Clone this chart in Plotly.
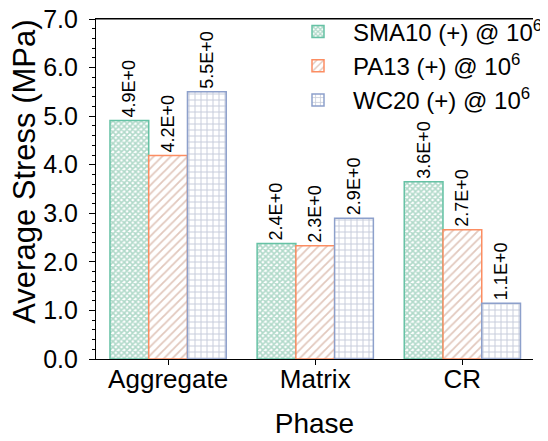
import plotly.graph_objects as go

categories = ["Aggregate", "Matrix", "CR"]
series_names = ["SMA10 (+) @ 10<sup>6</sup>", "PA13 (+) @ 10<sup>6</sup>", "WC20 (+) @ 10<sup>6</sup>"]
sma10 = [4.91, 2.38, 3.65]
pa13 = [4.19, 2.33, 2.66]
wc20 = [5.50, 2.90, 1.15]
y_ticks = [0, 1, 2, 3, 4, 5, 6, 7]
y_title = "Average Stress (MPa)"

def sci(v):
    m, e = f"{v:.1E}".split("E")
    return f"{m}E{int(e):+d}"

edge_colors = ["#66c2a5", "#fc8d62", "#8da0cb"]
pat_colors = ["#62b394", "#c4917c", "#8e99b6"]
shapes = ["x", "/", "+"]
sizes = [4, 6, 6]
sol = [0.65, 0.3, 0.3]

FONT = "Liberation Sans, Arial, sans-serif"
fig = go.Figure()
for i, (name, vals) in enumerate(zip(series_names, [sma10, pa13, wc20])):
    fig.add_trace(go.Bar(
        x=categories, y=vals, name=name,
        text=[sci(v) for v in vals], textposition="outside", textangle=-90,
        constraintext="none", cliponaxis=False,
        textfont=dict(family=FONT, size=18, color="black"),
        marker=dict(color="white", line=dict(color=edge_colors[i], width=1.5),
                    pattern=dict(shape=shapes[i], fgcolor=pat_colors[i], bgcolor="white",
                                 size=sizes[i], solidity=sol[i], fillmode="overlay")),
    ))

fig.update_layout(
    width=540, height=433, barmode="group", bargap=0.21, bargroupgap=0,
    plot_bgcolor="white", paper_bgcolor="white",
    margin=dict(l=88, r=0, t=11, b=82),
    font=dict(family=FONT, color="black"),
    legend=dict(x=0.428, y=1.028, xanchor="left", yanchor="top", bgcolor="rgba(0,0,0,0)",
                font=dict(size=24, family=FONT), tracegroupgap=0, itemwidth=60),
    xaxis=dict(range=[-0.49, 2.48], showline=True, linecolor="black", linewidth=1.2, mirror=True,
               automargin=False, ticklabelstandoff=-8,
               ticks="outside", ticklen=5, tickcolor="black",
               tickfont=dict(size=26), title=dict(text="Phase", font=dict(size=28), standoff=20),
               minor=dict(ticks="outside", ticklen=3, tickcolor="black", dtick=0.5)),
    yaxis=dict(range=[0, 7], tickvals=y_ticks, ticktext=[f"{t:.1f}" for t in y_ticks],
               automargin=False, ticklabelstandoff=6, ticklabeloverflow="allow",
               showline=True, linecolor="black", linewidth=1.2, showgrid=False, zeroline=False,
               ticks="outside", ticklen=6, tickcolor="black", tickfont=dict(size=25),
               minor=dict(ticks="outside", ticklen=3, tickcolor="black", dtick=0.2, showgrid=False)),
)
fig.add_annotation(text=y_title, xref="paper", yref="paper", x=-0.163, y=0.55,
                   xanchor="center", yanchor="middle", textangle=-90, showarrow=False,
                   font=dict(size=31, family=FONT, color="black"))
fig.add_shape(type="line", xref="paper", yref="paper", x0=0, x1=1, y0=1, y1=1,
              line=dict(color="black", width=1.2), layer="above")
fig.write_html("out.html")
